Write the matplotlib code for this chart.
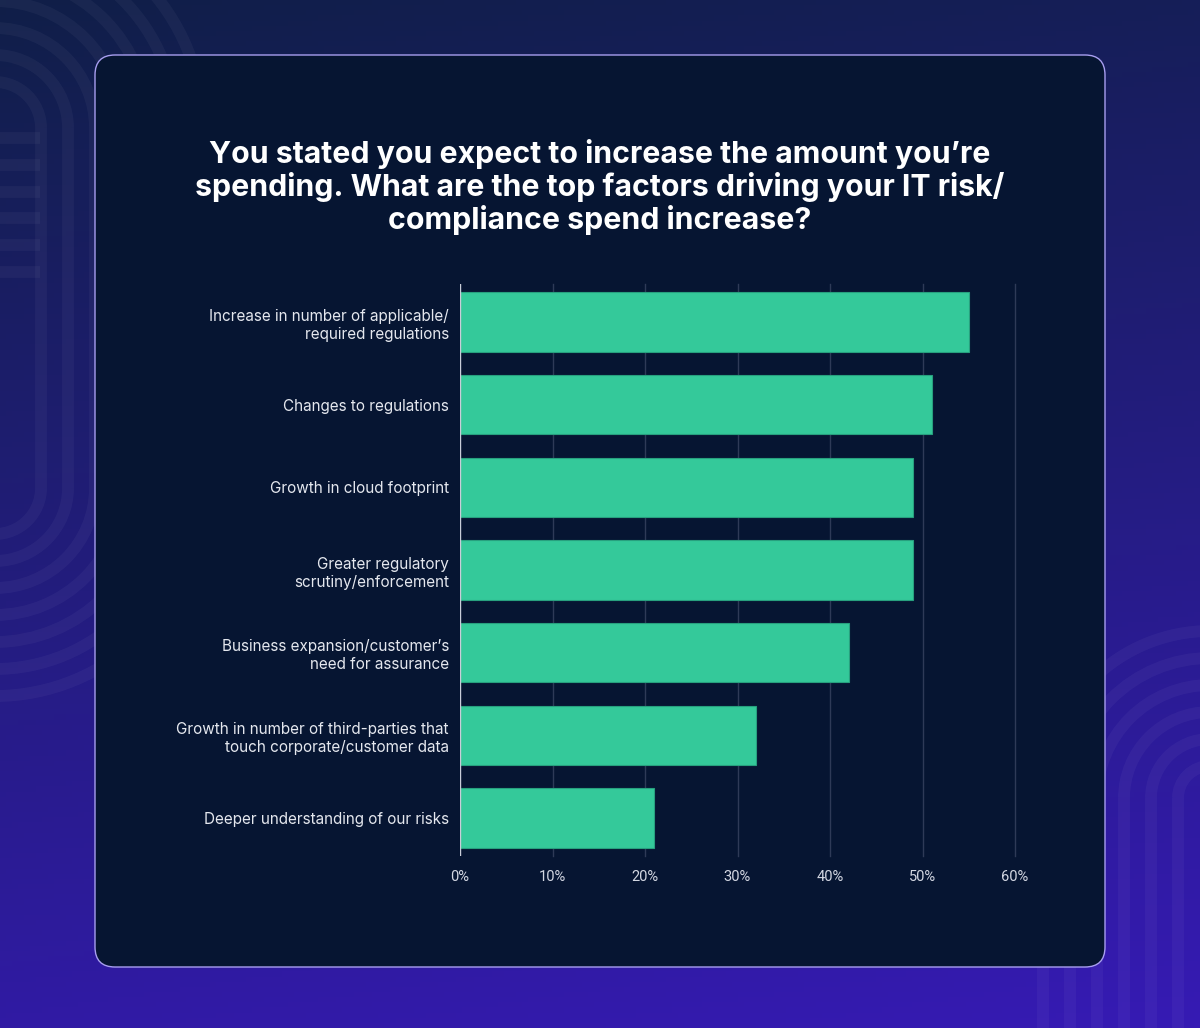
import numpy as np
import matplotlib
matplotlib.use('Agg')
import matplotlib.pyplot as plt
from matplotlib.patches import FancyBboxPatch, Arc

categories = [
    'Increase in number of applicable/\nrequired regulations',
    'Changes to regulations',
    'Growth in cloud footprint',
    'Greater regulatory\nscrutiny/enforcement',
    "Business expansion/customer\u2019s\nneed for assurance",
    'Growth in number of third-parties that\ntouch corporate/customer data',
    'Deeper understanding of our risks',
]
values = [55, 51, 49, 49, 42, 32, 21]
ticks = [0, 10, 20, 30, 40, 50, 60]
tick_labels = [f'{t}%' for t in ticks]
title = ('You stated you expect to increase the amount you\u2019re\n'
         'spending. What are the top factors driving your IT risk/\n'
         'compliance spend increase?')

W, H = 1200, 1028
fig = plt.figure(figsize=(W / 100, H / 100), dpi=100)

# background in pixel coordinates
bg = fig.add_axes([0, 0, 1, 1])
bg.set_xlim(0, W)
bg.set_ylim(H, 0)
bg.axis('off')
top = np.array([16, 31, 72]) / 255
bot = np.array([54, 26, 180]) / 255
yy, xx = np.mgrid[0:1:200j, 0:1:200j]
t = np.clip(0.85 * yy + 0.15 * xx, 0, 1)[..., None]
grad = top * (1 - t) + bot * t
bg.imshow(grad, extent=[0, W, H, 0], aspect='auto', zorder=0)

a = 0.04
ring = dict(color='white', alpha=a, lw=8.5, solid_capstyle='butt')
# left stadium rings
for r in [46, 73, 100, 127, 154, 181, 208]:
    bg.add_patch(Arc((-5, 128), 2 * r, 2 * r, theta1=180, theta2=360,
                     color='white', alpha=a, lw=8.5))
    bg.add_patch(Arc((-5, 488), 2 * r, 2 * r, theta1=0, theta2=180,
                     color='white', alpha=a, lw=8.5))
    bg.plot([-5 + r, -5 + r], [128, 488], **ring)
for y in [138, 165, 192, 218, 245, 272]:
    bg.plot([0, 40], [y, y], **ring)
# right-bottom arches
for r in [32, 59, 86, 113, 140, 167]:
    bg.add_patch(Arc((1210, 798), 2 * r, 2 * r, theta1=180, theta2=360,
                     color='white', alpha=a, lw=8.5))
    bg.plot([1210 - r, 1210 - r], [798, H], **ring)

# card
card = FancyBboxPatch((95, 55), 1010, 912, boxstyle='round,pad=0,rounding_size=20',
                      facecolor='#061532', edgecolor='#a89ef0', lw=1.0, zorder=2)
bg.add_patch(card)

bg.text(600, 187, title, ha='center', va='center', color='white', fontsize=21.8,
        fontweight='bold', family='Inter', linespacing=1.13, zorder=3)

# chart
ax = fig.add_axes([460 / W, 1 - 856 / H, 555 / W, 572 / H])
ax.set_facecolor('none')
y = np.arange(len(categories))
ax.barh(y, values, height=0.715, color='#34c99a', edgecolor='#27a07e', lw=0.8, zorder=3)
ax.set_ylim(len(categories) - 0.54, -0.46)
ax.set_xlim(0, 60)
ax.set_xticks(ticks)
ax.set_xticklabels(tick_labels)
ax.set_yticks(y)
ax.set_yticklabels(categories)
for x in ticks[1:]:
    ax.axvline(x, color='#2e3a57', lw=1.0, zorder=1, clip_on=False)
ax.axvline(0, color='#c8ccd8', lw=1.0, zorder=4)
for s in ax.spines.values():
    s.set_visible(False)
ax.tick_params(axis='x', length=0, pad=10, labelsize=10.5, labelcolor='#d3d7e2')
ax.tick_params(axis='y', length=0, pad=8, labelsize=11, labelcolor='#e4e7ee')
for lbl in ax.get_xticklabels():
    lbl.set_family('Roboto')
for lbl in ax.get_yticklabels():
    lbl.set_family('Inter')
    lbl.set_linespacing(1.25)

fig.savefig('out.png', dpi=100)
